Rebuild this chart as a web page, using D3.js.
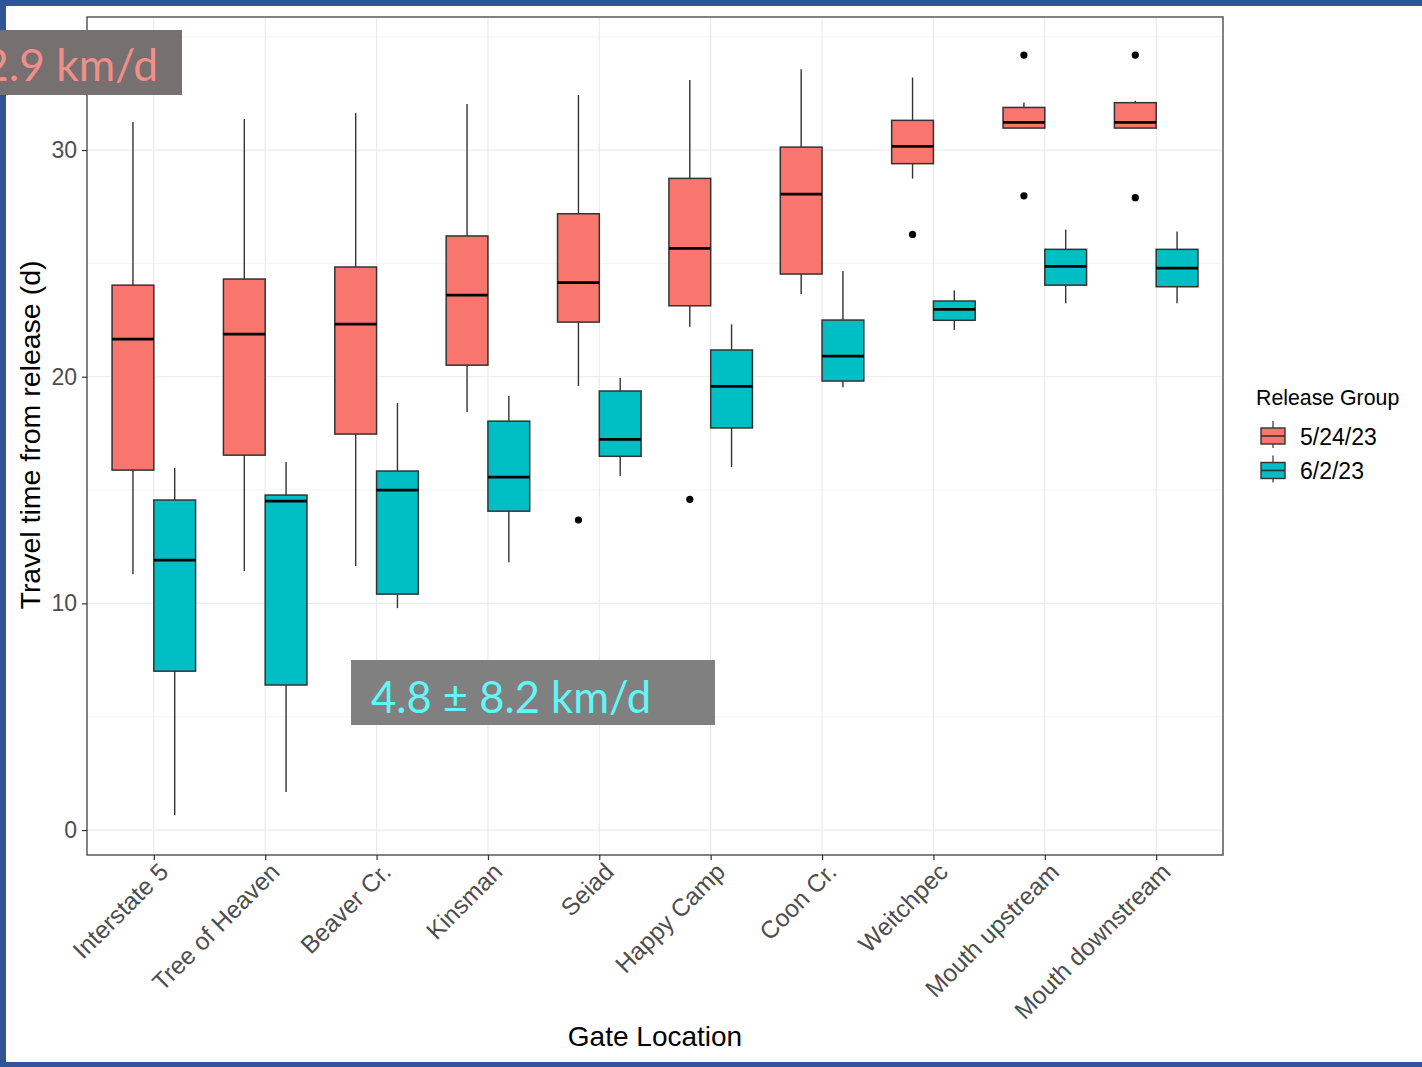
<!DOCTYPE html>
<html>
<head>
<meta charset="utf-8">
<script src="https://cdn.jsdelivr.net/npm/d3@7"></script>
<style>
  html, body { margin: 0; padding: 0; background: #ffffff; }
  svg { display: block; }
</style>
</head>
<body>
<svg id="chart" width="1422" height="1067"></svg>
<script>
// Gate locations along the river, upstream to downstream
const categories = ["Interstate 5", "Tree of Heaven", "Beaver Cr.", "Kinsman", "Seiad",
  "Happy Camp", "Coon Cr.", "Weitchpec", "Mouth upstream", "Mouth downstream"];

const groups = ["5/24/23", "6/2/23"];
const groupColors = ["#F8766D", "#00BFC4"];

// Box statistics per gate: [lower whisker, Q1, median, Q3, upper whisker] (days)
const statsMay24 = [
  [11.29, 15.88, 21.66, 24.04, 31.24],
  [11.43, 16.54, 21.88, 24.31, 31.37],
  [11.65, 17.47, 22.32, 24.84, 31.63],
  [18.44, 20.51, 23.60, 26.21, 32.03],
  [19.59, 22.41, 24.15, 27.19, 32.43],
  [22.20, 23.13, 25.66, 28.75, 33.09],
  [23.65, 24.53, 28.06, 30.13, 33.57],
  [28.74, 29.40, 30.16, 31.31, 33.20],
  [30.97, 30.97, 31.22, 31.88, 32.10],
  [30.97, 30.97, 31.22, 32.09, 32.18]
];
const statsJun2 = [
  [0.66, 7.01, 11.91, 14.56, 15.97],
  [1.68, 6.40, 14.51, 14.78, 16.24],
  [9.79, 10.41, 15.00, 15.84, 18.84],
  [11.82, 14.07, 15.57, 18.04, 19.15],
  [15.62, 16.49, 17.24, 19.37, 19.96],
  [16.01, 17.74, 19.57, 21.18, 22.31],
  [19.54, 19.81, 20.91, 22.50, 24.66],
  [22.06, 22.49, 22.97, 23.34, 23.81],
  [23.24, 24.04, 24.87, 25.62, 26.49],
  [23.24, 23.97, 24.79, 25.62, 26.41]
];

// Outlying fish per gate (days)
const outliersMay24 = [[], [], [], [], [13.68], [14.59], [], [26.28], [34.19, 27.98], [34.19, 27.90]];
const outliersJun2 = [[], [], [], [], [], [], [], [], [], []];

const yTicks = [0, 10, 20, 30];
const yMinorTicks = [5, 15, 25, 35];

const speedNotes = ["2.9 km/d", "4.8 \u00B1 8.2 km/d"];

const svg = d3.select("#chart");
const W = 1422, H = 1067;

// Panel
const panel = { left: 87, right: 1223, top: 17, bottom: 855 };
const x = d3.scalePoint().domain(categories).range([panel.left, panel.right]).padding(0.6);
const y = d3.scaleLinear().domain([-1.1, 35.87]).range([panel.bottom, panel.top]);
const step = x.step();
const boxW = step * 0.375;
const dodge = [-step * 0.1875, step * 0.1875];

svg.append("rect").attr("x", 0).attr("y", 0).attr("width", W).attr("height", H).attr("fill", "#ffffff");

const g = svg.append("g");

// Grid
g.append("g").selectAll("line").data(yMinorTicks).join("line")
  .attr("x1", panel.left).attr("x2", panel.right)
  .attr("y1", d => y(d)).attr("y2", d => y(d))
  .attr("stroke", "#ebebeb").attr("stroke-width", 0.6);
g.append("g").selectAll("line").data(yTicks).join("line")
  .attr("x1", panel.left).attr("x2", panel.right)
  .attr("y1", d => y(d)).attr("y2", d => y(d))
  .attr("stroke", "#ebebeb").attr("stroke-width", 1.2);
g.append("g").selectAll("line").data(categories).join("line")
  .attr("x1", d => x(d)).attr("x2", d => x(d))
  .attr("y1", panel.top).attr("y2", panel.bottom)
  .attr("stroke", "#ebebeb").attr("stroke-width", 1.2);

// Boxplots
const series = [
  { stats: statsMay24, outliers: outliersMay24, color: groupColors[0], off: dodge[0] },
  { stats: statsJun2, outliers: outliersJun2, color: groupColors[1], off: dodge[1] }
];
series.forEach(s => {
  const sg = g.append("g");
  categories.forEach((c, i) => {
    const [lo, q1, med, q3, hi] = s.stats[i];
    const cx = x(c) + s.off;
    sg.append("line").attr("x1", cx).attr("x2", cx).attr("y1", y(hi)).attr("y2", y(q3))
      .attr("stroke", "#333333").attr("stroke-width", 1.4);
    sg.append("line").attr("x1", cx).attr("x2", cx).attr("y1", y(q1)).attr("y2", y(lo))
      .attr("stroke", "#333333").attr("stroke-width", 1.4);
    sg.append("rect").attr("x", cx - boxW / 2).attr("y", y(q3))
      .attr("width", boxW).attr("height", y(q1) - y(q3))
      .attr("fill", s.color).attr("stroke", "#333333").attr("stroke-width", 1.5);
    sg.append("line").attr("x1", cx - boxW / 2).attr("x2", cx + boxW / 2)
      .attr("y1", y(med)).attr("y2", y(med))
      .attr("stroke", "#000000").attr("stroke-width", 2.7);
    s.outliers[i].forEach(v => {
      sg.append("circle").attr("cx", cx).attr("cy", y(v)).attr("r", 3.6).attr("fill", "#000000");
    });
  });
});

// Panel border
g.append("rect").attr("x", panel.left).attr("y", panel.top)
  .attr("width", panel.right - panel.left).attr("height", panel.bottom - panel.top)
  .attr("fill", "none").attr("stroke", "#4d4d4d").attr("stroke-width", 1.4);

// Axes
const yAxis = g.append("g").attr("transform", `translate(${panel.left},0)`)
  .call(d3.axisLeft(y).tickValues(yTicks).tickSize(5).tickPadding(5));
yAxis.select(".domain").remove();
yAxis.selectAll(".tick line").attr("stroke", "#333333").attr("stroke-width", 1.2);
yAxis.selectAll(".tick text").attr("fill", "#4d4d4d")
  .style("font-family", "'Liberation Sans', Arial, sans-serif").style("font-size", "23px");

const xAxis = g.append("g").attr("transform", `translate(0,${panel.bottom})`)
  .call(d3.axisBottom(x).tickSize(5).tickPadding(0));
xAxis.select(".domain").remove();
xAxis.selectAll(".tick line").attr("stroke", "#333333").attr("stroke-width", 1.2);
xAxis.selectAll(".tick text")
  .attr("fill", "#4d4d4d")
  .style("font-family", "'Liberation Sans', Arial, sans-serif").style("font-size", "24.5px")
  .attr("text-anchor", "end")
  .attr("x", 0).attr("y", 0).attr("dy", "0.72em")
  .attr("transform", "translate(3,6) rotate(-45)");

// Axis titles
svg.append("text").attr("x", 655).attr("y", 1046).attr("text-anchor", "middle")
  .style("font-family", "'Liberation Sans', Arial, sans-serif").style("font-size", "28px")
  .attr("fill", "#000000").text("Gate Location");
svg.append("text").attr("transform", "translate(40,435) rotate(-90)").attr("text-anchor", "middle")
  .style("font-family", "'Liberation Sans', Arial, sans-serif").style("font-size", "28.5px")
  .attr("fill", "#000000").text("Travel time from release (d)");

// Legend
const lg = svg.append("g");
lg.append("text").attr("x", 1256).attr("y", 405)
  .style("font-family", "'Liberation Sans', Arial, sans-serif").style("font-size", "21.3px")
  .attr("fill", "#000000").text("Release Group");
groups.forEach((grp, i) => {
  const cy = 436 + i * 34.5;
  const kx = 1261, kw = 24;
  lg.append("line").attr("x1", kx + kw / 2).attr("x2", kx + kw / 2)
    .attr("y1", cy - 15).attr("y2", cy + 12)
    .attr("stroke", "#333333").attr("stroke-width", 1.2);
  lg.append("rect").attr("x", kx).attr("y", cy - 8).attr("width", kw).attr("height", 16)
    .attr("fill", groupColors[i]).attr("stroke", "#333333").attr("stroke-width", 1.4);
  lg.append("line").attr("x1", kx).attr("x2", kx + kw).attr("y1", cy).attr("y2", cy)
    .attr("stroke", "#333333").attr("stroke-width", 1.6);
  lg.append("text").attr("x", 1300).attr("y", cy + 8.5)
    .style("font-family", "'Liberation Sans', Arial, sans-serif").style("font-size", "23px")
    .attr("fill", "#000000").text(grp);
});

// Slide frame
svg.append("rect").attr("x", 0).attr("y", 0).attr("width", W).attr("height", 6).attr("fill", "#2f5597");
svg.append("rect").attr("x", 0).attr("y", 0).attr("width", 6).attr("height", H).attr("fill", "#2f5597");
svg.append("rect").attr("x", 0).attr("y", 1062).attr("width", W).attr("height", 5).attr("fill", "#2f5597");

// Speed callouts
svg.append("rect").attr("x", 0).attr("y", 30).attr("width", 182).attr("height", 65).attr("fill", "#767070");
svg.append("text").attr("x", 158).attr("y", 81).attr("text-anchor", "end")
  .attr("textLength", 175).attr("lengthAdjust", "spacingAndGlyphs")
  .style("font-family", "Lato, 'Open Sans', sans-serif").style("font-size", "45px")
  .attr("fill", "#f28e8a").text(speedNotes[0]);

svg.append("rect").attr("x", 351).attr("y", 660).attr("width", 364).attr("height", 65).attr("fill", "#808080");
svg.append("text").attr("x", 371).attr("y", 713)
  .attr("textLength", 280).attr("lengthAdjust", "spacingAndGlyphs")
  .style("font-family", "Lato, 'Open Sans', sans-serif").style("font-size", "45px")
  .attr("fill", "#62f6f6").text(speedNotes[1]);
</script>
</body>
</html>
